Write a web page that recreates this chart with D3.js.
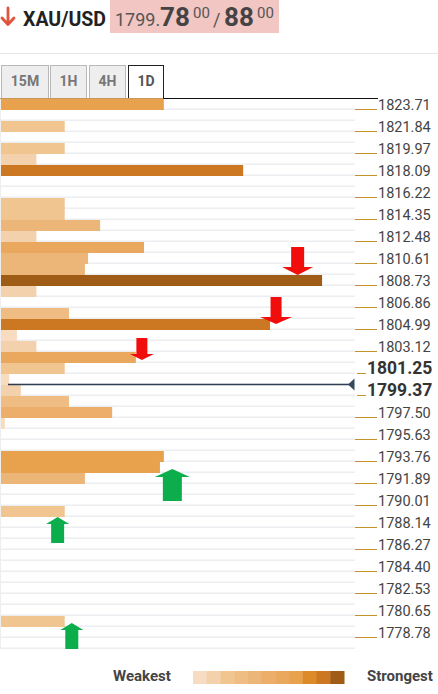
<!DOCTYPE html>
<html><head><meta charset="utf-8">
<script src="https://cdn.jsdelivr.net/npm/d3@7"></script>
<style>html,body{margin:0;padding:0;background:#fff;}svg{display:block;font-family:Roboto,"Noto Sans",sans-serif;}</style>
</head><body><svg id="c" width="438" height="694"></svg>
<script>
// ---------- data ----------
const symbol = "XAU/USD";
const priceBig = "1799.", bidMain = "78", bidSup = "00", askMain = "88", askSup = "00";
const tabs = ["15M", "1H", "4H", "1D"];
const activeTab = "1D";
const tickLabels = ["1823.71","1821.84","1819.97","1818.09","1816.22","1814.35","1812.48","1810.61","1808.73","1806.86","1804.99","1803.12","1801.25","1799.37","1797.50","1795.63","1793.76","1791.89","1790.01","1788.14","1786.27","1784.40","1782.53","1780.65","1778.78"];
const currentPrice = 1799.78;
// confluence strength per price row (two rows per tick label), 0..100
const strengths = [46,0,18,0,18,10,68.4,0,0,18,
                   18,28,10,40.4,24.6,23.7,90.7,10,0,19.2,
                   76,4.5,10,38.1,18,2.3,5.6,19.2,31.4,1.1,
                   0,0,46,44.9,23.7,0,0,18,0,0,
                   0,0,0,0,0,0,0,18,0,0];
const legendColors = ["#f8dcc2","#f4d1ad","#f1c590","#efbd84","#edb679","#ecae6a","#eaa85f","#e8a14c","#dc8a2a","#cc7722","#9e5c17"];
const colorThresholds = [5,15,19,22,30,36,42,55,65,80];
const downArrows = [{row:16,pos:83.8},{row:20,pos:77.7},{row:23,pos:39.8}];
const upArrows = [{row:33,pos:48.4},{row:37,pos:16},{row:47,pos:20}];
const legendLow = "Weakest", legendHigh = "Strongest";

// ---------- drawing ----------
const svg = d3.select("#c");
const nRows = strengths.length;
const y = d3.scaleBand().domain(d3.range(nRows)).range([99, 99 + 11 * nRows]);
const x = d3.scaleLinear().domain([0, 100]).range([1, 355]);
const color = d3.scaleThreshold().domain(colorThresholds).range(legendColors);
const rowOfPrice = d3.scaleLinear().domain([+tickLabels[0], +tickLabels[tickLabels.length-1]]).range([0, 2*(tickLabels.length-1)]);

// header
svg.append("path").attr("d","M8,8V24M2,18L8,24.5L14,18").attr("fill","none")
  .attr("stroke","#e0533d").attr("stroke-width",2.8).attr("stroke-linecap","round").attr("stroke-linejoin","round");
svg.append("text").attr("x",23).attr("y",26).attr("font-size",19.5).attr("font-weight","bold").attr("fill","#222").text(symbol);
svg.append("rect").attr("x",110).attr("y",0).attr("width",169).attr("height",33).attr("fill","#f2c6c2");
const pt = svg.append("text").attr("y",26).attr("fill","#555");
pt.append("tspan").attr("x",115).attr("font-size",18).text(priceBig);
pt.append("tspan").attr("x",160).attr("font-size",26).attr("font-weight","bold").attr("fill","#444").text(bidMain);
pt.append("tspan").attr("x",193).attr("dy",-8).attr("font-size",15).text(bidSup);
pt.append("tspan").attr("x",213).attr("dy",8).attr("font-size",18).text("/");
pt.append("tspan").attr("x",224).attr("font-size",26).attr("font-weight","bold").attr("fill","#444").text(askMain);
pt.append("tspan").attr("x",257).attr("dy",-8).attr("font-size",15).text(askSup);
svg.append("line").attr("x1",0).attr("x2",438).attr("y1",53.5).attr("y2",53.5).attr("stroke","#e6e6e6");

// tabs
const tabX = [1,50,89,128], tabW = [47,36,36,35];
tabs.forEach((t,i)=>{
  const act = t===activeTab;
  svg.append("rect").attr("x",tabX[i]+0.5).attr("y",65.5).attr("width",tabW[i]).attr("height",33)
    .attr("fill",act?"#fff":"#eeeeee").attr("stroke",act?"#222":"#b8b8b8");
  svg.append("text").attr("x",tabX[i]+tabW[i]/2+0.5).attr("y",86).attr("text-anchor","middle")
    .attr("font-size",14).attr("font-weight","bold").attr("fill",act?"#555":"#777").text(t);
});
svg.append("line").attr("x1",0).attr("x2",163.5).attr("y1",98.5).attr("y2",98.5).attr("stroke","#c89a5a");
svg.append("line").attr("x1",163.5).attr("x2",378).attr("y1",98.5).attr("y2",98.5).attr("stroke","#111");

// row stripes
const g = svg.append("g");
g.selectAll("line.row").data(d3.range(nRows)).join("line").attr("class","row")
  .attr("x1",0).attr("x2",355).attr("y1",d=>y(d)+y.bandwidth()-0.75).attr("y2",d=>y(d)+y.bandwidth()-0.75)
  .attr("stroke","#eceef1").attr("stroke-width",1.5);
g.append("line").attr("x1",0.5).attr("x2",0.5).attr("y1",99).attr("y2",y(nRows-1)+11).attr("stroke","#eeeeee");

// bars
g.selectAll("rect.bar").data(strengths.map((v,i)=>({v,i})).filter(d=>d.v>0)).join("rect").attr("class","bar")
  .attr("x",x(0)).attr("y",d=>y(d.i)).attr("height",y.bandwidth()).attr("width",d=>x(d.v)-x(0))
  .attr("fill",d=>color(d.v));

// axis labels on the right
const curRow = Math.ceil(rowOfPrice(currentPrice));
const boldIdx = [Math.floor(rowOfPrice(currentPrice)/2), Math.ceil(rowOfPrice(currentPrice)/2)];
tickLabels.forEach((lab,j)=>{
  const yy = y(2*j) + 11;
  const b = boldIdx.includes(j);
  svg.append("line").attr("x1",b?357:355).attr("x2",b?366:377).attr("y1",yy-0.5).attr("y2",yy-0.5)
    .attr("stroke","#c8922a").attr("stroke-width",1);
  svg.append("text").attr("x",b?367:378).attr("y",yy).attr("font-size",b?17.5:14.5)
    .attr("font-weight",b?"bold":"normal").attr("fill",b?"#333":"#444").text(lab);
});

// current price line
const ly = y(curRow) - 0.5;
svg.append("line").attr("x1",8).attr("x2",350).attr("y1",ly).attr("y2",ly).attr("stroke","#2c3e50").attr("stroke-width",1.5);
svg.append("path").attr("d",`M348,${ly}L354.5,${ly-6}L354.5,${ly+6}Z`).attr("fill","#34495e");

// arrows
function arrow(cx, tip, dir, s, fill){
  const k = dir; // 1 = down (tip at bottom), -1 = up
  const base = tip - k*s.len, hb = tip - k*s.hh;
  const p = [[cx-s.sw/2,base],[cx+s.sw/2,base],[cx+s.sw/2,hb],[cx+s.hw/2,hb],[cx,tip],[cx-s.hw/2,hb],[cx-s.sw/2,hb]];
  svg.append("path").attr("d","M"+p.map(q=>q.join(",")).join("L")+"Z").attr("fill",fill);
}
const downStyle = [{off:0,len:28,hw:31,hh:8,sw:13},{off:5,len:27,hw:32,hh:7,sw:11},{off:8,len:22,hw:24,hh:6,sw:11}];
const upStyle = [{off:7,len:32,hw:35,hh:8,sw:19},{off:11,len:26,hw:23,hh:7,sw:13},{off:7,len:26,hw:23,hh:7,sw:13}];
downArrows.forEach((a,i)=>arrow(x(a.pos), y(a.row)+downStyle[i].off, 1, downStyle[i], "#f20d0d"));
upArrows.forEach((a,i)=>arrow(x(a.pos), y(a.row)+upStyle[i].off, -1, upStyle[i], "#0bae4b"));

// legend
const lx = d3.scaleBand().domain(d3.range(legendColors.length)).range([193,344]);
svg.selectAll("rect.leg").data(legendColors).join("rect").attr("class","leg")
  .attr("x",(d,i)=>lx(i)).attr("y",671).attr("width",lx.bandwidth()+0.5).attr("height",13).attr("fill",d=>d);
svg.append("text").attr("x",113).attr("y",681).attr("font-size",15).attr("font-weight","bold").attr("fill","#444").text(legendLow);
svg.append("text").attr("x",367).attr("y",681).attr("font-size",15).attr("font-weight","bold").attr("fill","#444").text(legendHigh);
</script></body></html>
